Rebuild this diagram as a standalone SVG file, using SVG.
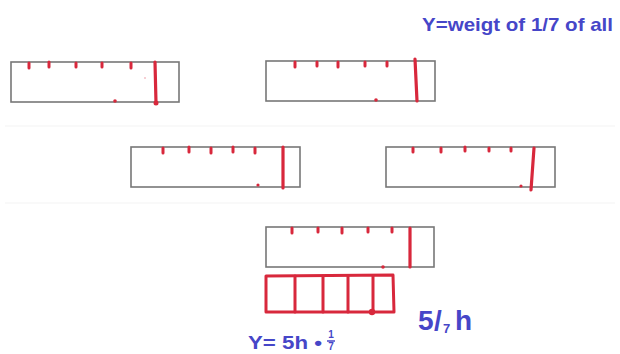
<svg xmlns="http://www.w3.org/2000/svg" width="620" height="354" viewBox="0 0 620 354">
<style>
.box{fill:#fff;stroke:#777;stroke-width:1.6}
.tick{stroke:#d8283c;stroke-width:3;stroke-linecap:round}
.bar{stroke:#d8283c;stroke-width:3.2;stroke-linecap:round;fill:none}
.dot{fill:#d8283c}
.red{stroke:#d8283c;stroke-width:3;fill:none;stroke-linejoin:round;stroke-linecap:round}
.ink{fill:#4646c8;font-family:"Liberation Sans",Arial,sans-serif;font-weight:bold}
.sep{stroke:#f3f3f3;stroke-width:1}
</style>
<rect width="620" height="354" fill="#fff"/>
<line class="sep" x1="5" y1="126" x2="615" y2="126"/>
<line class="sep" x1="5" y1="203" x2="615" y2="203"/>

<g id="box1">
<rect class="box" x="11" y="62" width="168" height="40"/>
<path class="tick" d="M29 63v5M49 62v5M76 63v4M102 63v4M131 63v5"/>
<path class="bar" d="M155 62L156 103"/>
<circle class="dot" cx="156" cy="103" r="2.5"/>
<circle class="dot" cx="115" cy="101" r="1.8"/>
<circle class="dot" cx="145" cy="78" r="0.8" opacity="0.5"/>
</g>

<g id="box2">
<rect class="box" x="266" y="61" width="169" height="40"/>
<path class="tick" d="M295 62v5M317 62v4M338 62v5M365 62v4M387 62v4"/>
<path class="bar" d="M415 59L417 101"/>
<circle class="dot" cx="376" cy="100" r="1.8"/>
</g>

<g id="box3">
<rect class="box" x="131" y="147" width="169" height="40"/>
<path class="tick" d="M163 148v5M189 147v5M211 148v5M233 147v5M255 148v5"/>
<path class="bar" d="M283 147L283 188"/>
<circle class="dot" cx="258" cy="185" r="1.6"/>
</g>

<g id="box4">
<rect class="box" x="386" y="147" width="169" height="40"/>
<path class="tick" d="M413 148v4M441 148v4M465 147v4M489 148v3M511 148v3"/>
<path class="bar" d="M534 148L531 190"/>
<circle class="dot" cx="521" cy="186" r="1.6"/>
</g>

<g id="box5">
<rect class="box" x="266" y="227" width="168" height="40"/>
<path class="tick" d="M292 228v5M318 228v4M342 228v5M368 228v4M392 228v4"/>
<path class="bar" d="M410 228L410 267"/>
<circle class="dot" cx="383" cy="267" r="1.8"/>
</g>

<g id="redbox">
<path class="red" d="M266 276L393 275L394 312L266 312Z"/>
<path class="red" d="M295 276V312M323 276V312M348 276V312M373 276V312"/>
<circle class="dot" cx="372" cy="312" r="3.2"/>
</g>

<g id="labels">
<text class="ink" x="422" y="31" font-size="19" textLength="191" lengthAdjust="spacingAndGlyphs">Y=weigt of 1/7 of all</text>
<text class="ink" x="418" y="330" font-size="28">5</text>
<text class="ink" x="434" y="330" font-size="28">/</text>
<text class="ink" x="443" y="333" font-size="13">7</text>
<text class="ink" x="455" y="330" font-size="28">h</text>
<text class="ink" x="248" y="349" font-size="18" textLength="74" lengthAdjust="spacingAndGlyphs">Y= 5h •</text>
<text class="ink" x="331" y="338" font-size="10" text-anchor="middle">1</text>
<line x1="327" y1="341" x2="335" y2="341" stroke="#4646c8" stroke-width="1.5"/>
<text class="ink" x="331" y="350" font-size="10" text-anchor="middle">7</text>
</g>
</svg>
